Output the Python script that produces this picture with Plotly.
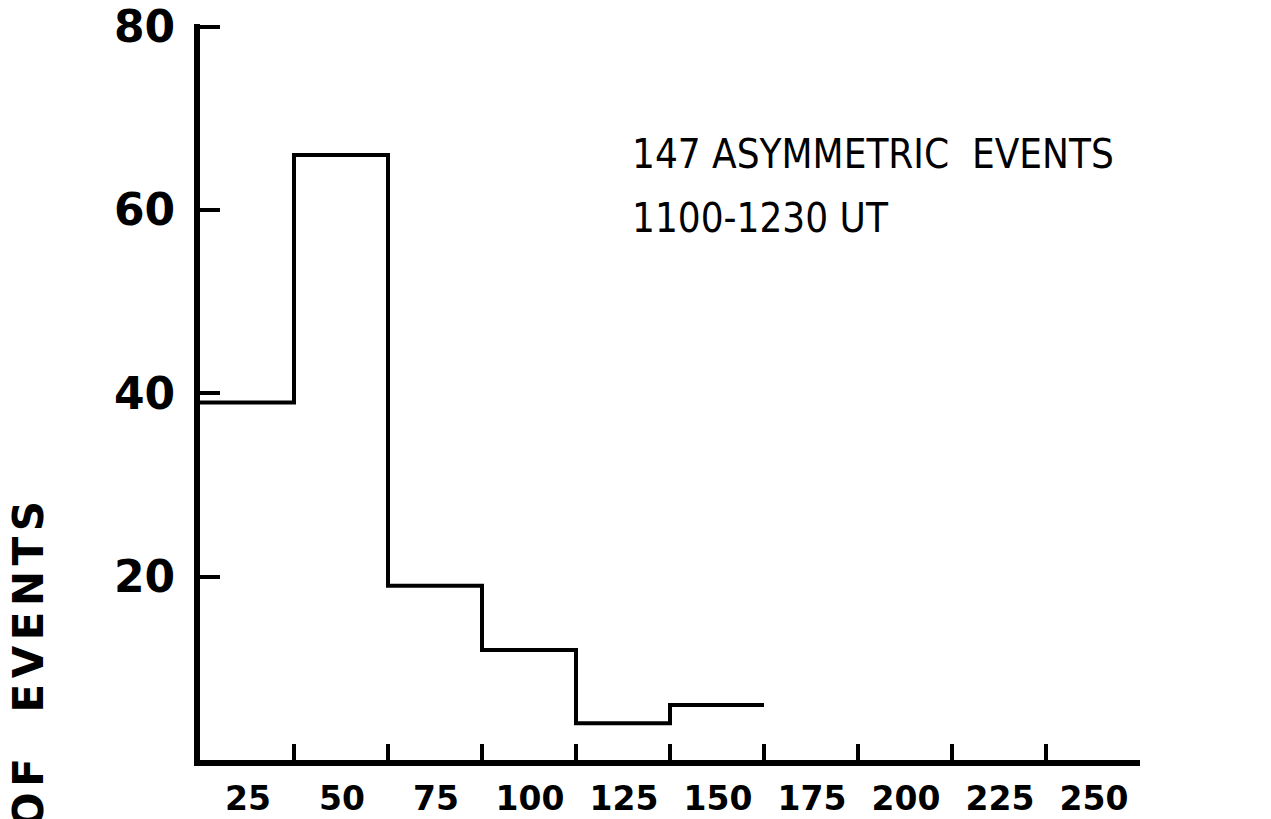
import plotly.graph_objects as go

# Histogram of event counts per 25-unit bin
bin_edges = [0, 25, 50, 75, 100, 125, 150]
counts = [39, 66, 19, 12, 4, 6]

x_tick_values = [25, 50, 75, 100, 125, 150, 175, 200, 225, 250]
x_tick_labels = ["25", "50", "75", "100", "125", "150", "175", "200", "225", "250"]
y_tick_values = [20, 40, 60, 80]
y_tick_labels = ["20", "40", "60", "80"]

title_lines = ["147 ASYMMETRIC&nbsp; EVENTS", "1100-1230 UT"]
y_title = "NO. OF EVENTS"

# step outline: each count held across its bin, last level carried to the final edge
step_x = bin_edges
step_y = counts + [counts[-1]]

fig = go.Figure()
fig.add_trace(go.Scatter(
    x=step_x, y=step_y, mode="lines",
    line=dict(shape="hv", color="black", width=4),
    showlegend=False, hoverinfo="skip",
))

num_font = dict(family="DejaVu Sans", size=44, color="black", weight="bold")

PLOT_TOP = 24

fig.update_layout(
    width=1271, height=819,
    margin=dict(l=200, r=131, t=PLOT_TOP, b=59, autoexpand=False),
    paper_bgcolor="white", plot_bgcolor="white",
    xaxis=dict(
        range=[0, 250], showgrid=False, zeroline=False, automargin=False,
        showline=True, linecolor="black", linewidth=6,
        tickmode="array", tickvals=x_tick_values, ticktext=x_tick_labels,
        ticks="inside", ticklen=16, tickwidth=4, tickcolor="black",
        ticklabelshift=-46, ticklabelstandoff=4, ticklabeloverflow="allow",
        tickfont=dict(family="DejaVu Sans", size=33, color="black", weight="bold"),
    ),
    yaxis=dict(
        range=[0, 80.3], showgrid=False, zeroline=False, automargin=False,
        showline=True, linecolor="black", linewidth=6,
        tickmode="array", tickvals=y_tick_values, ticktext=y_tick_labels,
        ticks="inside", ticklen=20, tickwidth=4, tickcolor="black",
        ticklabelstandoff=10, ticklabeloverflow="allow",
        tickfont=num_font,
    ),
)

# px -> paper helpers for the plot area (x: 200..1140, y: PLOT_TOP..760)
def px_x(p):
    return (p - 200) / 940

def px_y(p):
    return (760 - p) / (760 - PLOT_TOP)

label_font = dict(family="Liberation Sans Narrow, DejaVu Sans Condensed, DejaVu Sans",
                  size=40, color="black")
fig.add_annotation(text=title_lines[0], xref="paper", yref="paper",
                   x=px_x(630), y=px_y(154),
                   xanchor="left", yanchor="middle", showarrow=False, font=label_font)
fig.add_annotation(text=title_lines[1], xref="paper", yref="paper",
                   x=px_x(630), y=px_y(218),
                   xanchor="left", yanchor="middle", showarrow=False, font=label_font)

fig.add_annotation(
    text='<span style="letter-spacing:5.5px;word-spacing:20px">' + y_title + "</span>",
    xref="paper", yref="paper",
    x=px_x(28), y=px_y(494),
    xanchor="center", yanchor="top", textangle=-90,
    showarrow=False,
    font=dict(family="DejaVu Sans", size=42, color="black", weight="bold"),
)

fig.write_html("out.html")
